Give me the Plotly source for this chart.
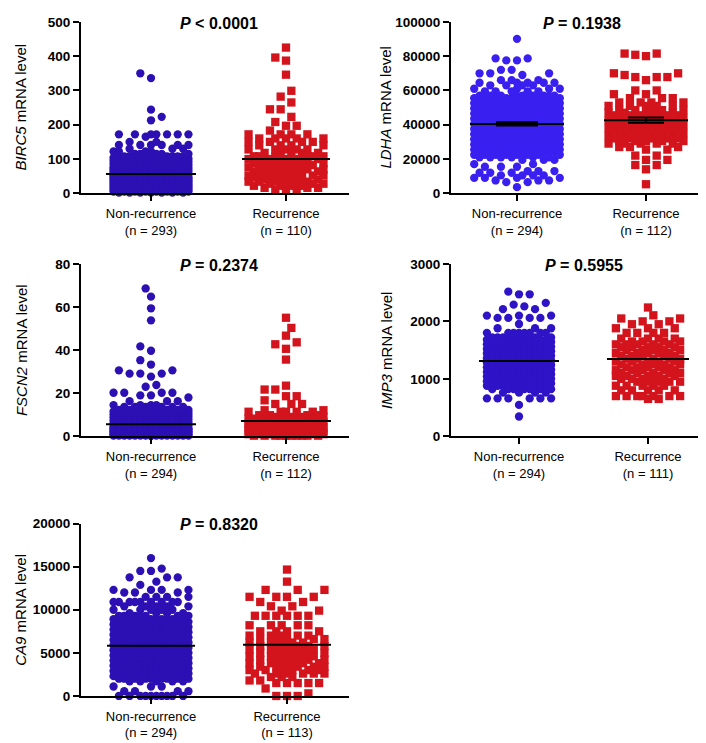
import plotly.graph_objects as go

FIG_W, FIG_H = 706, 743

# ---------------- data ----------------
genes = ["BIRC5", "LDHA", "FSCN2", "IMP3", "CA9"]
p_labels = ["<i>P</i> < 0.0001", "<i>P</i> = 0.1938", "<i>P</i> = 0.2374",
            "<i>P</i> = 0.5955", "<i>P</i> = 0.8320"]
group_names = ["Non-recurrence", "Recurrence"]
n_counts = [[293, 110], [294, 112], [294, 112], [294, 111], [294, 113]]
y_max = [500, 100000, 80, 3000, 20000]
y_step = [100, 20000, 20, 1000, 5000]
mean_values = [[56, 100], [40500, 42650], [5.6, 7.1], [1310, 1345], [5830, 5950]]
sem_values = [[None, None], [900, 1500], [None, None], [None, None], [None, None]]

birc5_non_levels = [2, 5, 8, 11, 14, 17, 20, 23, 26, 29, 32, 35, 38, 41, 44, 47, 50, 53, 56, 59, 62, 65, 68,
                    71, 74, 77, 80, 83, 86, 89, 92, 95, 98, 101, 104, 108, 115, 122, 130, 141, 150, 165,
                    172, 213, 223, 244, 336, 350]
birc5_non_counts = [7, 8, 7, 8, 8, 7, 8, 7, 8, 8, 7, 8, 7, 8, 7, 8, 7, 7, 8, 7, 7, 8, 7,
                    7, 8, 7, 7, 7, 7, 6, 7, 6, 6, 6, 6, 8, 5, 4, 3, 6, 2, 1,
                    7, 1, 1, 1, 1, 1]
birc5_rec_levels = [10, 16, 22, 28, 34, 40, 46, 52, 58, 64, 70, 76, 82, 88, 94, 100, 108, 118, 128, 140,
                    150, 160, 172, 183, 197, 208, 223, 245, 265, 282, 299, 346, 387, 396, 425]
birc5_rec_counts = [3, 3, 4, 5, 4, 5, 4, 5, 4, 5, 4, 5, 4, 5, 4, 5, 6, 5, 5, 4,
                    4, 5, 4, 1, 2, 1, 1, 2, 1, 1, 1, 1, 1, 1, 1]

ldha_non_levels = [3600, 6500, 7500, 9000, 10500, 12000, 13000, 15500, 17000, 19500, 21000,
                   22500, 24000, 25500, 27000, 28500, 30000, 31500, 33000, 34500, 36000, 37500, 39000,
                   40500, 42000, 43500, 45000, 46500, 48000, 49500, 51000, 52500, 54000, 55500, 57000,
                   59500, 61000, 63000, 64500, 66000, 69000, 70000, 72000, 77500, 78700, 90100]
ldha_non_counts = [1, 2, 3, 4, 4, 3, 3, 3, 2, 3, 6,
                   9, 9, 10, 9, 10, 9, 10, 9, 10, 9, 10, 10,
                   10, 9, 10, 9, 10, 9, 10, 9, 9, 9, 9, 9,
                   5, 4, 4, 5, 3, 1, 3, 2, 2, 2, 1]
ldha_rec_levels = [5300, 14000, 16500, 19500, 22000, 25500, 27000,
                   29000, 30500, 32000, 33500, 35000, 36500, 38000, 39500, 41000, 42500, 44000, 45500,
                   47000, 48500, 51000, 53000, 55500, 57800, 60000, 66000, 67800, 69000, 70000, 80000,
                   80800, 81500]
ldha_rec_counts = [1, 1, 2, 2, 2, 2, 3,
                   5, 5, 5, 5, 6, 5, 5, 6, 5, 5, 6, 5,
                   5, 5, 5, 4, 3, 2, 2, 1, 3, 1, 2, 1,
                   1, 2]

fscn2_non_levels = [0.3, 1.0, 1.7, 2.4, 3.1, 3.8, 4.5, 5.2, 5.9, 6.6, 7.3, 8.0, 8.7, 9.4, 10.1, 10.8, 11.5,
                    12.2, 13.6, 14.5, 16.3, 18.0, 19.0, 20.2, 23.0, 23.8, 27.7, 29.1, 30.6, 33.3, 35.3,
                    39.7, 41.7, 53.8, 59.4, 64.8, 68.6]
fscn2_non_counts = [22, 19, 18, 17, 16, 15, 14, 14, 13, 12, 12, 11, 10, 10, 9, 9, 8,
                    8, 6, 4, 3, 1, 2, 4, 1, 1, 1, 3, 2, 1, 1,
                    1, 1, 1, 1, 1, 1]
fscn2_rec_levels = [0.3, 1.0, 1.8, 2.6, 3.4, 4.2, 5.0, 5.8, 6.6, 7.4, 8.2, 9.0, 9.8, 11.4, 12.1, 15.0,
                    16.7, 18.6, 21.7, 23.5, 35.6, 40.6, 42.7, 43.6, 46.7, 50.3, 55.0]
fscn2_rec_counts = [10, 9, 9, 8, 8, 7, 7, 7, 6, 6, 6, 5, 4, 5, 2, 3,
                    1, 2, 2, 1, 1, 1, 1, 1, 1, 1, 1]

imp3_non_levels = [345, 546, 660, 760, 820, 880, 920, 960, 1000, 1040, 1080, 1120, 1160, 1200, 1240,
                   1280, 1320, 1360, 1400, 1440, 1480, 1520, 1560, 1600, 1640, 1680, 1720, 1800, 1880,
                   1954, 2060, 2100, 2212, 2260, 2290, 2322, 2471, 2517]
imp3_non_counts = [1, 1, 6, 4, 7, 11, 11, 11, 12, 11, 11, 12, 11, 11, 12,
                   11, 11, 12, 11, 11, 11, 11, 11, 10, 11, 10, 10, 8, 3,
                   1, 4, 3, 2, 1, 1, 1, 2, 1]
imp3_rec_levels = [650, 700, 800, 880, 950, 1000, 1050, 1100, 1150, 1200, 1250, 1300, 1350, 1400, 1450,
                   1500, 1550, 1600, 1650, 1700, 1800, 1880, 1950, 2000, 2050, 2105, 2241]
imp3_rec_counts = [2, 7, 5, 5, 5, 5, 5, 5, 5, 5, 5, 5, 5, 5, 5,
                   5, 5, 5, 4, 4, 4, 3, 2, 2, 2, 1, 1]

ca9_non_levels = [0, 550, 1100, 1700, 2000, 2300, 2600, 2900, 3200, 3500, 3800, 4100, 4400, 4700, 5000,
                  5300, 5600, 5900, 6200, 6500, 6800, 7100, 7400, 7700, 8000, 8300, 8600, 8900, 9300,
                  9600, 10000, 10400, 10900, 11500, 12000, 12300, 12880, 13260, 13750, 14500, 14770, 15990]
ca9_non_counts = [10, 4, 3, 5, 9, 9, 9, 9, 10, 9, 9, 10, 9, 9, 10,
                  9, 9, 9, 9, 10, 9, 9, 9, 9, 8, 9, 8, 8, 7,
                  4, 5, 5, 9, 4, 3, 4, 1, 1, 3, 2, 1, 1]
ca9_rec_levels = [0, 300, 870, 1500, 1800, 2200, 2600, 3000, 3400, 3800, 4200, 4600, 5000, 5400, 5800,
                  6200, 6600, 7000, 7500, 8200, 9300, 9900, 10400, 10900, 11500, 12300, 13260, 14660]
ca9_rec_counts = [3, 1, 1, 5, 2, 3, 6, 6, 6, 6, 6, 6, 6, 6, 6,
                  5, 5, 5, 4, 5, 6, 2, 2, 2, 4, 3, 1, 1]

panel_data = [
    [(birc5_non_levels, birc5_non_counts), (birc5_rec_levels, birc5_rec_counts)],
    [(ldha_non_levels, ldha_non_counts), (ldha_rec_levels, ldha_rec_counts)],
    [(fscn2_non_levels, fscn2_non_counts), (fscn2_rec_levels, fscn2_rec_counts)],
    [(imp3_non_levels, imp3_non_counts), (imp3_rec_levels, imp3_rec_counts)],
    [(ca9_non_levels, ca9_non_counts), (ca9_rec_levels, ca9_rec_counts)],
]

# ---------------- layout / style ----------------
FONT = "Liberation Sans, Arial, sans-serif"
blue_colors = ["#2c10b4", "#3a20f0", "#2c10b4", "#2f13c6", "#2c10b4"]
red_color = "#d3141d"

# pixel boxes of the plot areas (left, right, top, bottom)
boxes = [(73, 341, 7, 182), (443, 696, 7, 182), (73, 341, 254, 430),
         (443, 696, 254, 430), (73, 341, 519, 695)]
cat_px = [(143, 278), (509, 638), (143, 278), (511, 640), (143, 279)]
slot_limit = [[7, 7], [8, 7], [7, 7], [6, 6], [7, 7]]  # half-step slots each side
mean_half_px = [[45, 44], [47, 42], [45, 45], [40, 41], [44, 44]]
cap_half_px = [[21, 18]] * 5
SPACING = 10.7
MIN_DIST = 9.4
MARKER_C = 8.3
MARKER_S = 8.3


def swarm(values, py, half_slots):
    """beeswarm offsets (px) for values, py = pixels per data unit"""
    vals = sorted(values)
    cands = sorted(range(-half_slots, half_slots + 1), key=lambda j: (abs(j), j))
    placed = []
    out = []
    for i, v in enumerate(vals):
        y = v * py
        neigh = [(yy, xx) for (yy, xx) in placed if abs(yy - y) < MIN_DIST]
        order = cands if i % 2 == 0 else [-c for c in cands]
        best = None
        for j in order:
            x = j * SPACING / 2
            if all((x - xx) ** 2 + (y - yy) ** 2 >= MIN_DIST ** 2 for yy, xx in neigh):
                best = x
                break
        if best is None:
            bestd = -1
            for j in order:
                x = j * SPACING / 2
                md = min((x - xx) ** 2 + (y - yy) ** 2 for yy, xx in neigh)
                if md > bestd + 1e-9:
                    bestd = md
                    best = x
        placed.append((y, best))
        out.append((v, best))
    return out


fig = go.Figure()
layout = dict(
    width=FIG_W, height=FIG_H, margin=dict(l=0, r=0, t=0, b=0),
    paper_bgcolor="white", plot_bgcolor="white", showlegend=False,
    font=dict(family=FONT, color="black"),
)
annotations = []

for k in range(5):
    L, R, T, B = boxes[k]
    c0, c1 = cat_px[k]
    pxu = (c1 - c0) * 1.0  # px per category unit
    x_lo = (L - c0) / pxu
    x_hi = (R - c0) / pxu
    py = (B - T) / y_max[k]
    suf = "" if k == 0 else str(k + 1)
    xname, yname = "x" + suf, "y" + suf

    for g in range(2):
        levels, counts = panel_data[k][g]
        vals = []
        for lv, ct in zip(levels, counts):
            vals += [lv] * ct
        pts = swarm(vals, py, slot_limit[k][g])
        xs = [g + off / pxu for v, off in pts]
        ys = [v for v, off in pts]
        fig.add_trace(go.Scatter(
            x=xs, y=ys, mode="markers", xaxis=xname, yaxis=yname, cliponaxis=False,
            marker=dict(symbol="circle" if g == 0 else "square",
                        size=MARKER_C if g == 0 else MARKER_S,
                        color=blue_colors[k] if g == 0 else red_color, line=dict(width=0)),
            hoverinfo="skip"))
    for g in range(2):
        hw = mean_half_px[k][g] / pxu
        m = mean_values[k][g]
        fig.add_trace(go.Scatter(
            x=[g - hw, g + hw], y=[m, m], mode="lines", xaxis=xname, yaxis=yname,
            cliponaxis=False, line=dict(color="black", width=2), hoverinfo="skip"))
        if sem_values[k][g]:
            fig.add_trace(go.Scatter(
                x=[g], y=[m], mode="markers", xaxis=xname, yaxis=yname, cliponaxis=False,
                marker=dict(size=1, color="black"),
                error_y=dict(type="data", array=[sem_values[k][g]], color="black",
                             thickness=2, width=cap_half_px[k][g]),
                hoverinfo="skip"))

    layout["xaxis" + suf] = dict(
        domain=[L / FIG_W, R / FIG_W], range=[x_lo, x_hi], anchor=yname,
        showline=True, linecolor="black", linewidth=2, showgrid=False, zeroline=False,
        tickmode="array", tickvals=[0, 1],
        ticktext=[f"{group_names[i]}<br>(n = {n_counts[k][i]})" for i in range(2)],
        ticks="outside", ticklen=6, tickwidth=2, tickcolor="black",
        ticklabelstandoff=1,
        tickfont=dict(family=FONT, size=13, color="black"), fixedrange=True)
    layout["yaxis" + suf] = dict(
        domain=[1 - B / FIG_H, 1 - T / FIG_H], range=[0, y_max[k]], anchor=xname,
        showline=True, linecolor="black", linewidth=2, showgrid=False, zeroline=False,
        tickmode="linear", tick0=0, dtick=y_step[k], ticks="outside", ticklen=6,
        tickwidth=2, tickcolor="black", tickformat="d",
        tickfont=dict(family=FONT, size=13.5, color="black", weight="bold"), fixedrange=True)

    # P-value title
    annotations.append(dict(
        x=0.5, xref=xname, y=1 - (T + 1.5) / FIG_H, yref="paper", text=p_labels[k],
        showarrow=False, xanchor="center", yanchor="middle",
        font=dict(family=FONT, size=16, color="black", weight="bold")))
    # y-axis title
    annotations.append(dict(
        x=(L - 60) / FIG_W if L < 200 else (L - 65) / FIG_W, xref="paper",
        y=1 - ((T + B) / 2) / FIG_H, yref="paper",
        text=f"<i>{genes[k]}</i> mRNA level", textangle=-90, showarrow=False,
        xanchor="center", yanchor="middle", font=dict(family=FONT, size=15, color="black")))

layout["annotations"] = annotations
fig.update_layout(**layout)
fig.write_html("out.html")
